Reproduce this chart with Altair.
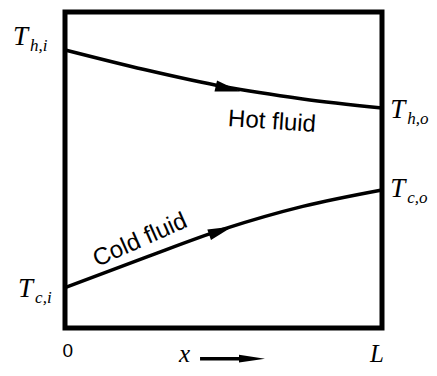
import altair as alt
import pandas as pd

# curve samples (x as fraction of L, temperature in relative units)
x_pos = [0.0, 0.25, 0.5, 0.75, 1.0]
hot_temp = [0.880, 0.818, 0.764, 0.725, 0.696]
cold_temp = [0.128, 0.222, 0.313, 0.385, 0.437]

# end temperature labels
label_main = ["T", "T", "T", "T"]
label_sub = ["h,i", "h,o", "c,o", "c,i"]
label_x = [-0.164, 1.026, 1.026, -0.148]
label_y = [0.896, 0.665, 0.415, 0.098]

# flow arrows on the curves
hot_arrow = {"x": [0.514], "y": [0.757]}
cold_arrow = {"x": [0.492], "y": [0.308]}

# fluid names
hot_name = {"t": ["Hot fluid"], "x": [0.653], "y": [0.652]}
cold_name = {"t": ["Cold fluid"], "x": [0.237], "y": [0.278]}

# axis end labels
tick_text = ["0"]
tick_x = [0.009]
tick_y = [-0.092]
end_text = ["L"]
end_x = [0.984]
end_y = [-0.108]

# x direction indicator
xlab = {"t": ["x"], "x": [0.377], "y": [-0.108]}
xarrow_line = {"x": [0.426], "x2": [0.57], "y": [-0.097]}
xarrow_head = {"x": [0.590], "y": [-0.097]}

xs = alt.Scale(domain=[0, 1], nice=False, zero=False)
ys = alt.Scale(domain=[0, 1], nice=False, zero=False)
X = lambda f: alt.X(f, type="quantitative", scale=xs, axis=None)
Y = lambda f: alt.Y(f, type="quantitative", scale=ys, axis=None)

curves = pd.DataFrame({
    "x": x_pos * 2,
    "temp": hot_temp + cold_temp,
    "fluid": ["hot"] * len(x_pos) + ["cold"] * len(x_pos),
})

serif = "Liberation Serif"
sans = "Liberation Sans"
curve_head = "M-1,-0.45L1,0L-1,0.45Z"
axis_head = "M-1,-0.3L1,0L-1,0.3Z"

lines = alt.Chart(curves).mark_line(color="black", strokeWidth=3.5, interpolate="monotone").encode(
    x=X("x"), y=Y("temp"), detail="fluid:N")

hot_head = alt.Chart(pd.DataFrame(hot_arrow)).mark_point(
    shape=curve_head, size=625, filled=True, color="black", opacity=1, angle=13, strokeWidth=0
).encode(x=X("x"), y=Y("y"))
cold_head = alt.Chart(pd.DataFrame(cold_arrow)).mark_point(
    shape=curve_head, size=625, filled=True, color="black", opacity=1, angle=341, strokeWidth=0
).encode(x=X("x"), y=Y("y"))

labels = pd.DataFrame({"main": label_main, "sub": label_sub, "x": label_x, "y": label_y})
lab_T = alt.Chart(labels).mark_text(
    font=serif, fontStyle="italic", fontSize=27, align="left", baseline="alphabetic", color="black"
).encode(x=X("x"), y=Y("y"), text="main:N")
lab_sub = alt.Chart(labels).mark_text(
    font=serif, fontStyle="italic", fontSize=17, align="left", baseline="alphabetic", color="black",
    dx=17, dy=6
).encode(x=X("x"), y=Y("y"), text="sub:N")

hot_txt = alt.Chart(pd.DataFrame(hot_name)).mark_text(
    font=sans, fontSize=24, angle=4, align="center", baseline="middle", color="black"
).encode(x=X("x"), y=Y("y"), text="t:N")
cold_txt = alt.Chart(pd.DataFrame(cold_name)).mark_text(
    font=sans, fontSize=24, angle=336, align="center", baseline="middle", color="black"
).encode(x=X("x"), y=Y("y"), text="t:N")

zero_txt = alt.Chart(pd.DataFrame({"t": tick_text, "x": tick_x, "y": tick_y})).mark_text(
    font=sans, fontSize=19, align="center", baseline="alphabetic", color="black"
).encode(x=X("x"), y=Y("y"), text="t:N")
l_txt = alt.Chart(pd.DataFrame({"t": end_text, "x": end_x, "y": end_y})).mark_text(
    font=serif, fontStyle="italic", fontSize=25, align="center", baseline="alphabetic", color="black"
).encode(x=X("x"), y=Y("y"), text="t:N")

x_txt = alt.Chart(pd.DataFrame(xlab)).mark_text(
    font=serif, fontStyle="italic", fontSize=25, align="center", baseline="alphabetic", color="black"
).encode(x=X("x"), y=Y("y"), text="t:N")
x_line = alt.Chart(pd.DataFrame(xarrow_line)).mark_rule(color="black", strokeWidth=3.5).encode(
    x=X("x"), x2="x2:Q", y=Y("y"))
x_head = alt.Chart(pd.DataFrame(xarrow_head)).mark_point(
    shape=axis_head, size=676, filled=True, color="black", opacity=1, strokeWidth=0
).encode(x=X("x"), y=Y("y"))

chart = alt.layer(
    lines, hot_head, cold_head, lab_T, lab_sub, hot_txt, cold_txt,
    zero_txt, l_txt, x_txt, x_line, x_head
).properties(
    width=317, height=316,
    autosize=alt.AutoSizeParams(type="none"),
    padding={"left": 57, "top": 4, "right": 47, "bottom": 40},
    background="white",
).configure_view(stroke="black", strokeWidth=5)

chart.save("out.html", embed_options={"renderer": "svg", "actions": False})
